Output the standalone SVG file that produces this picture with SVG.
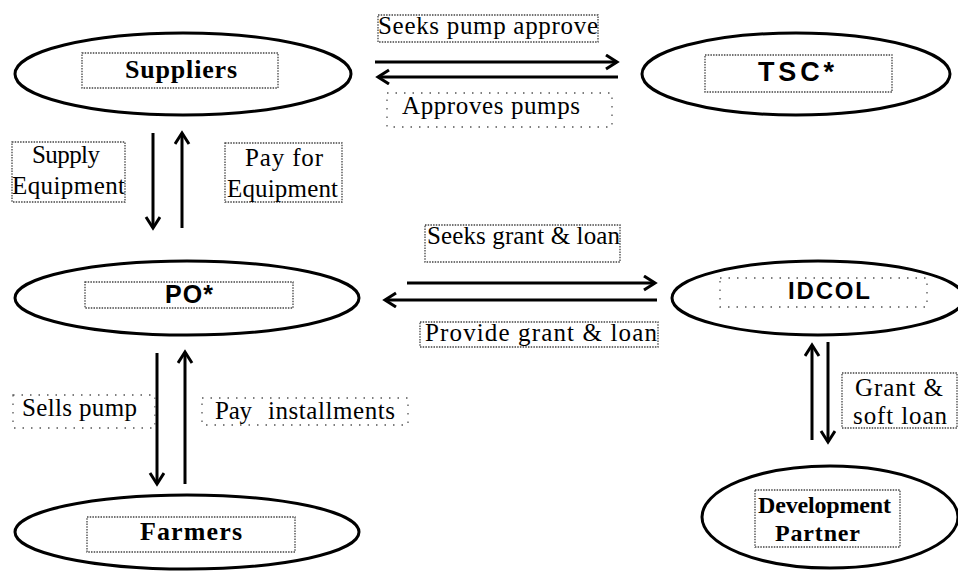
<svg xmlns="http://www.w3.org/2000/svg" width="958" height="571" viewBox="0 0 958 571">
<style>
.bg{fill:#fff}
.node ellipse{fill:none;stroke:#000;stroke-width:3}
.box{fill:none;stroke:#444;stroke-width:1.3;stroke-dasharray:1.5 1.2}
.sparse{fill:none;stroke:#555;stroke-width:1.3;stroke-dasharray:1.5 7}
.conn path{fill:none;stroke:#000;stroke-width:3;marker-end:url(#arr)}
.lbl{font-family:"Liberation Serif","Times New Roman",serif;font-size:25px;fill:#000}
.bs{font-family:"Liberation Serif","Times New Roman",serif;font-size:26px;font-weight:bold;fill:#000}
.bs24{font-size:24px}
.ss{font-family:"Liberation Sans",Arial,sans-serif;font-weight:bold;fill:#000}
</style>
<defs>
<marker id="arr" markerUnits="userSpaceOnUse" markerWidth="16" markerHeight="18" refX="12" refY="8" orient="auto">
<path d="M1,1 L12,8 L1,15" fill="none" stroke="#000" stroke-width="3"/>
</marker>
</defs>
<rect class="bg" x="0" y="0" width="958" height="571"/>

<g id="suppliers" class="node">
<ellipse cx="183" cy="74" rx="168" ry="41"/>
<rect class="box" x="82" y="53" width="196" height="35"/>
<text class="bs" x="125" y="78" textLength="112" lengthAdjust="spacing">Suppliers</text>
</g>
<g id="tsc" class="node">
<ellipse cx="796" cy="74" rx="154" ry="41"/>
<rect class="box" x="705" y="55" width="187" height="37"/>
<text class="ss" x="758" y="81" font-size="27" textLength="76" lengthAdjust="spacing">TSC*</text>
</g>
<g id="po" class="node">
<ellipse cx="187" cy="298" rx="172" ry="37"/>
<rect class="box" x="85" y="282" width="208" height="26"/>
<text class="ss" x="165" y="303" font-size="25" textLength="48" lengthAdjust="spacing">PO*</text>
</g>
<g id="idcol" class="node">
<ellipse cx="818" cy="298" rx="146" ry="37"/>
<rect class="sparse" x="720" y="278" width="207" height="29"/>
<text class="ss" x="788" y="299" font-size="24" textLength="82" lengthAdjust="spacing">IDCOL</text>
</g>
<g id="farmers" class="node">
<ellipse cx="187" cy="532" rx="172" ry="37"/>
<rect class="box" x="87" y="517" width="208" height="35"/>
<text class="bs" x="140" y="540" textLength="102" lengthAdjust="spacing">Farmers</text>
</g>
<g id="devpartner" class="node">
<ellipse cx="830" cy="517" rx="128" ry="51"/>
<rect class="box" x="755" y="490" width="145" height="57"/>
<text class="bs bs24" x="758" y="513" textLength="133" lengthAdjust="spacing">Development</text>
<text class="bs bs24" x="775" y="541" textLength="85" lengthAdjust="spacing">Partner</text>
</g>

<g id="connectors" class="conn">
<path d="M375,62 H617"/>
<path d="M618,77 H378"/>
<path d="M153,133 V228"/>
<path d="M182,228 V133"/>
<path d="M407,283 H655"/>
<path d="M657,300 H385"/>
<path d="M157,353 V484"/>
<path d="M185,484 V352"/>
<path d="M812,440 V345"/>
<path d="M828,342 V442"/>
</g>

<g id="labels">
<rect class="box" x="378" y="15" width="220" height="27"/>
<text class="lbl" x="378" y="34" textLength="220" lengthAdjust="spacing">Seeks pump approve</text>
<rect class="sparse" x="387" y="93" width="225" height="34"/>
<text class="lbl" x="402" y="114" textLength="178" lengthAdjust="spacing">Approves pumps</text>
<rect class="box" x="12" y="142" width="113" height="60"/>
<text class="lbl" x="32" y="163" textLength="68" lengthAdjust="spacing">Supply</text>
<text class="lbl" x="12" y="194" textLength="113" lengthAdjust="spacing">Equipment</text>
<rect class="box" x="225" y="143" width="117" height="59"/>
<text class="lbl" x="245" y="166" textLength="78" lengthAdjust="spacing">Pay for</text>
<text class="lbl" x="227" y="197" textLength="111" lengthAdjust="spacing">Equipment</text>
<rect class="box" x="425" y="225" width="195" height="37"/>
<text class="lbl" x="427" y="244" textLength="193" lengthAdjust="spacing">Seeks grant &amp; loan</text>
<rect class="box" x="420" y="322" width="238" height="25"/>
<text class="lbl" x="425" y="341" textLength="232" lengthAdjust="spacing">Provide grant &amp; loan</text>
<rect class="sparse" x="13" y="395" width="142" height="33"/>
<text class="lbl" x="22" y="416" textLength="115" lengthAdjust="spacing">Sells pump</text>
<rect class="sparse" x="202" y="398" width="206" height="27"/>
<text class="lbl" y="419"><tspan x="215" textLength="37" lengthAdjust="spacing">Pay</tspan> <tspan x="268" textLength="127" lengthAdjust="spacing">installments</tspan></text>
<rect class="box" x="842" y="373" width="115" height="55"/>
<text class="lbl" x="855" y="396" textLength="88" lengthAdjust="spacing">Grant &amp;</text>
<text class="lbl" x="853" y="424" textLength="94" lengthAdjust="spacing">soft loan</text>
</g>
</svg>
